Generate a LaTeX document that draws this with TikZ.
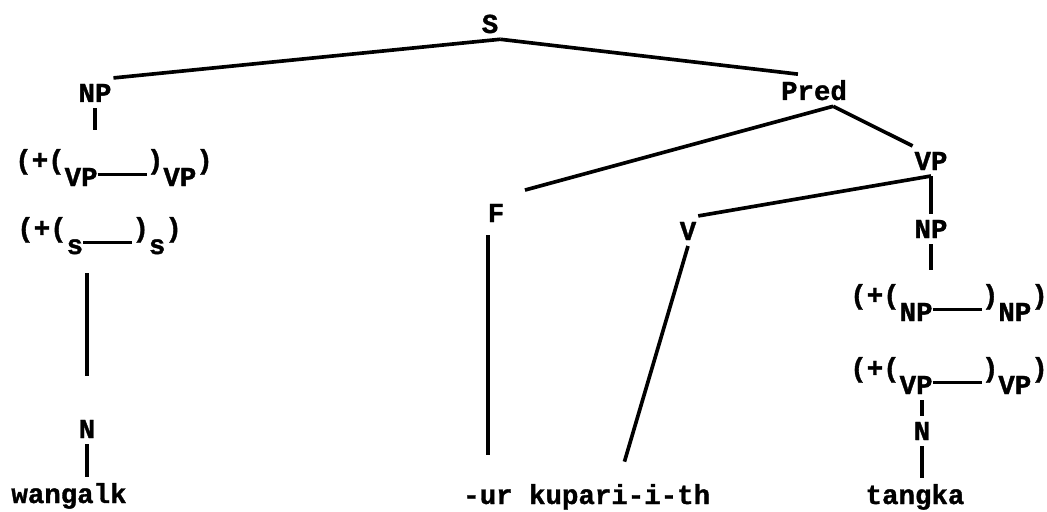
\documentclass[tikz,border=0pt]{standalone}
\usepackage{fontspec}
\setmonofont{Liberation Mono}[BoldFeatures={FakeBold=1.2}]
\usetikzlibrary{positioning}
\newcommand{\lo}[1]{\raisebox{-0.62em}{#1}}
\newcommand{\blank}{\rule[-0.26em]{1.8em}{2.4pt}}

\begin{document}
\begin{tikzpicture}[x=0.025cm,y=-0.025cm,
  every node/.style={font=\ttfamily\bfseries\fontsize{19.5}{22}\selectfont,inner sep=0pt},
  cat/.style={anchor=base,outer xsep=0.05cm,outer ysep=0.15cm},
  slot/.style={anchor=base west,outer ysep=0.15cm},
  branch/.style={line width=2.6pt}]
  \useasboundingbox (0,0) rectangle (1047,512);

  % categories
  \node[cat] (S) at (490,33) {S};
  \node[cat] (NPa) at (95,102) {NP};
  \node[cat] (Pred) at (814,100) {Pred};
  \node[cat] (VPb) at (931,170) {VP};
  \node[cat] (F) at (496,222) {F};
  \node[cat] (V) at (688,240) {V};
  \node[cat] (NPc) at (931,238) {NP};
  \node[cat] (Na) at (87,438) {N};
  \node[cat] (Nb) at (922,440) {N};

  % frames
  \node[slot] (cxa) at (15,169) {(+(\lo{VP}\blank)\lo{VP})};
  \node[slot] (cxb) at (17,237) {(+(\lo{s}\blank)\lo{s})};
  \node[slot] (cxc) at (850,304) {(+(\lo{NP}\blank)\lo{NP})};
  \node[slot] (cxd) at (850,377) {(+(\lo{VP}\blank)\lo{VP})};

  % words
  \node[cat] (wg) at (69,503) {wangalk};
  \node[cat] (ur) at (488,504) {-ur};
  \node[cat, base right=0.31cm of ur] (kup) {kupari-i-th};
  \node[cat] (tk) at (915,504) {tangka};

  \draw[branch] (S.south east) -- (NPa.north east);
  \draw[branch] (S.south east) -- (Pred.135);
  \draw[branch, shorten >=0.75cm] (Pred.-40) -- (F.north);
  \draw[branch] (Pred.-40) -- (VPb.north west);
  \draw[branch] (VPb.south) -- (V.north east);
  \draw[branch] (VPb.south) -- (NPc.north);
  \draw[branch, shorten >=0.33cm] (NPa.south) -- (NPa.south |- cxa.north);
  \draw[branch, shorten <=0.33cm, shorten >=0.95cm] (Na.north |- cxb.south) -- (Na.north);
  \draw[branch] (Na.south) -- (Na.south |- wg.north);
  \draw[branch, shorten <=0.18cm, shorten >=0.7cm] (ur.north |- F.south) -- (ur.north);
  \draw[branch, shorten >=0.43cm] (V.south) -- (kup.north);
  \draw[branch, shorten >=0.2cm] (NPc.south) -- (NPc.south |- cxc.north);
  \draw[branch] (Nb.north |- cxd.south) -- (Nb.north);
  \draw[branch] (Nb.south) -- (Nb.south |- tk.north);
\end{tikzpicture}
\end{document}
